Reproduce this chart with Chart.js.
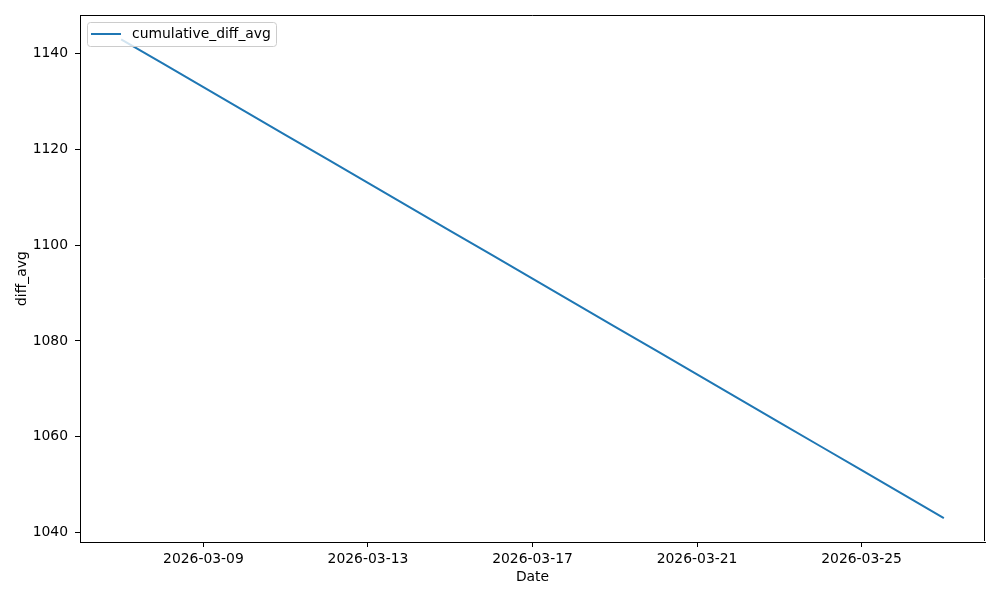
<!DOCTYPE html>
<html>
<head>
<meta charset="utf-8">
<script src="https://cdn.jsdelivr.net/npm/chart.js@4.4.1/dist/chart.umd.min.js"></script>
<style>
  html, body { margin: 0; padding: 0; background: #fff; }
  #wrap { width: 1000px; height: 600px; }
</style>
</head>
<body>
<div id="wrap"><canvas id="chart" width="1000" height="600"></canvas></div>
<script>
const dates = [
  '2026-03-07','2026-03-08','2026-03-09','2026-03-10','2026-03-11','2026-03-12','2026-03-13',
  '2026-03-14','2026-03-15','2026-03-16','2026-03-17','2026-03-18','2026-03-19','2026-03-20',
  '2026-03-21','2026-03-22','2026-03-23','2026-03-24','2026-03-25','2026-03-26','2026-03-27',
];
const cumulativeDiffAvg = [
  1143, 1138, 1133, 1128, 1123, 1118, 1113,
  1108, 1103, 1098, 1093, 1088, 1083, 1078,
  1073, 1068, 1063, 1058, 1053, 1048, 1043,
];
const xTickDates = ['2026-03-09', '2026-03-13', '2026-03-17', '2026-03-21', '2026-03-25'];
const yTicks     = [1040, 1060, 1080, 1100, 1120, 1140];

const FONT = { family: "'DejaVu Sans', sans-serif", size: 13.9 };
const BLUE = '#1f77b4';

// top/right spines + matplotlib-style legend inside the axes
const framePlugin = {
  id: 'frame',
  afterDatasetsDraw(chart) {
    const { ctx, chartArea: a } = chart;
    ctx.save();
    ctx.strokeStyle = '#000';
    ctx.lineWidth = 1;
    const t = Math.round(a.top) + 0.5, r = Math.round(a.right) - 0.5, b = Math.round(a.bottom) - 1;
    ctx.beginPath();
    ctx.moveTo(a.left, t);
    ctx.lineTo(r, t);
    ctx.lineTo(r, b);
    ctx.stroke();

    const ds = chart.data.datasets[0];
    ctx.beginPath();
    ctx.roundRect(87.5, 22.5, 189, 24, 3);
    ctx.fillStyle = 'rgba(255,255,255,0.8)';
    ctx.fill();
    ctx.strokeStyle = '#cccccc';
    ctx.stroke();

    ctx.beginPath();
    ctx.moveTo(91, 34);
    ctx.lineTo(121, 34);
    ctx.strokeStyle = ds.borderColor;
    ctx.lineWidth = 2;
    ctx.stroke();

    ctx.fillStyle = '#000';
    ctx.font = `${FONT.size}px ${FONT.family}`;
    ctx.textBaseline = 'middle';
    ctx.fillText(ds.label, 132, 34.5);
    ctx.restore();
  }
};

new Chart(document.getElementById('chart'), {
  type: 'line',
  data: {
    datasets: [{
      label: 'cumulative_diff_avg',
      data: cumulativeDiffAvg.map((v, i) => ({ x: i, y: v })),
      borderColor: BLUE,
      borderWidth: 2,
      pointRadius: 0,
      tension: 0,
      fill: false,
    }]
  },
  options: {
    responsive: false,
    animation: false,
    layout: { padding: { top: 15, right: 15, left: 0, bottom: 0 } },
    plugins: { legend: { display: false }, tooltip: { enabled: false } },
    scales: {
      x: {
        type: 'linear',
        min: -1,
        max: dates.length,
        afterBuildTicks: s => { s.ticks = xTickDates.map(d => ({ value: dates.indexOf(d) })); },
        afterFit: s => { s.height = 58; },
        ticks: {
          color: '#000', font: FONT, padding: 4, maxRotation: 0, autoSkip: false,
          callback: v => dates[v] || '',
        },
        grid: { drawOnChartArea: false, tickLength: 5, tickColor: '#000' },
        border: { color: '#000' },
        title: { display: true, text: 'Date', color: '#000', font: FONT, padding: { top: 0, bottom: 14.6 } },
      },
      y: {
        min: 1038,
        max: 1148,
        afterBuildTicks: s => { s.ticks = yTicks.map(v => ({ value: v })); },
        afterFit: s => { s.width = 80; },
        ticks: { color: '#000', font: FONT, padding: 7, callback: v => String(v) },
        grid: { drawOnChartArea: false, tickLength: 5, tickColor: '#000' },
        border: { color: '#000' },
        title: { display: true, text: 'diff_avg', color: '#000', font: FONT, padding: { top: 13.6, bottom: 0 } },
      }
    }
  },
  plugins: [framePlugin]
});
</script>
</body>
</html>
